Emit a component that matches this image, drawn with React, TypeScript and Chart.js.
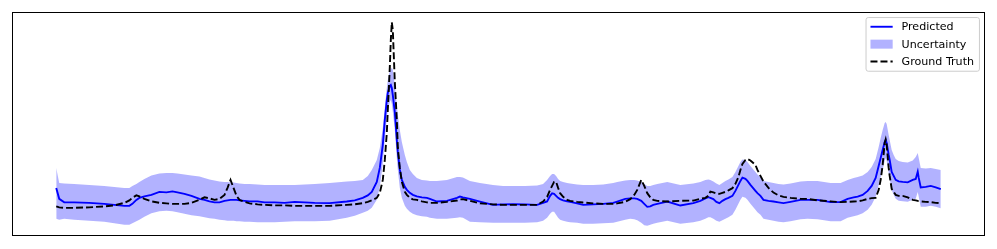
import { useEffect, useRef } from "react";
import { Chart, registerables } from "chart.js";

Chart.register(...registerables);

// sample index (time step)
const t = [0, 3, 8, 18, 33, 48, 58, 68, 73, 76, 80, 83, 88, 95, 103, 110, 116, 121, 128, 135, 143, 148, 153, 158, 163, 168, 171, 174, 177, 180, 183, 188, 193, 201, 208, 218, 228, 238, 248, 258, 273, 290, 298, 306, 311, 315, 320, 323, 326, 328, 330, 331, 333, 334, 335, 336, 338, 340, 341, 343, 345, 348, 350, 353, 356, 360, 365, 370, 373, 380, 390, 400, 403, 406, 413, 423, 436, 446, 456, 468, 480, 486, 490, 493, 495, 497, 499, 501, 503, 506, 510, 513, 520, 526, 536, 546, 556, 560, 568, 573, 577, 580, 584, 587, 590, 593, 596, 600, 610, 623, 636, 643, 648, 651, 653, 656, 659, 662, 665, 668, 671, 675, 678, 681, 683, 685, 688, 690, 693, 698, 700, 703, 706, 711, 716, 721, 726, 733, 743, 750, 760, 773, 783, 790, 796, 800, 805, 810, 814, 818, 821, 823, 825, 827, 828, 829, 831, 832, 834, 836, 838, 841, 845, 850, 855, 858, 860, 861, 863, 868, 873, 878, 883];

const predicted = [38, 27, 23.5, 23.5, 23, 22, 21, 20, 20, 22, 26, 28, 29.5, 31, 34, 33.5, 34.5, 33.5, 32, 30, 27, 26, 24.5, 23.5, 23.5, 25, 25.5, 26, 26, 26, 25.5, 25, 24.5, 24.5, 23.5, 23.5, 23, 24, 23.5, 23, 22.7, 24.3, 25.5, 28, 30.5, 34, 44, 58, 81, 106, 126, 133, 140, 141, 138, 131, 114, 86, 74, 56, 46, 39, 36, 33, 31, 29.5, 28.5, 28, 27, 24.3, 25, 28, 29.3, 28.5, 27, 24.3, 21, 21.5, 21.7, 21.5, 21, 23, 24.5, 30, 32.5, 32, 30, 28, 26.7, 25.5, 24.5, 24, 22.5, 21, 21.5, 22, 23, 24.3, 27, 27.5, 27.5, 27, 25, 22, 19, 19.5, 21, 22, 24.3, 20.3, 22.7, 25, 27.5, 28.7, 28, 26.7, 24, 22.7, 25, 26.7, 28, 30, 35, 41, 45, 48.3, 47, 45, 41, 35, 32.7, 30, 26, 25, 24.3, 23.5, 22.7, 24, 26, 26, 26, 23.7, 23.7, 27, 28.5, 29.3, 31, 35, 40, 48, 60, 68, 76, 84, 86, 83, 71, 66, 54, 50, 46, 44.5, 44, 43.5, 46, 47, 54.3, 48, 38.5, 39, 40, 38.5, 36.7];

const groundTruth = [19.5, 18.5, 18, 18, 18.5, 19.5, 20.5, 23, 25.5, 28, 30.5, 29.5, 27, 24.5, 23, 22.5, 22, 22, 22, 23, 26, 28.5, 27.5, 26, 27, 31, 38, 46, 38, 30, 26, 24, 22.5, 21.5, 21, 20.5, 20.5, 20, 20, 20, 20, 21, 21.5, 22.7, 24, 25.5, 28, 33, 46, 66, 93, 116, 159, 186, 204, 196, 144, 106, 78, 58, 44, 34, 31, 28, 26.5, 26, 24.5, 23.5, 23, 23, 24, 25.3, 26.5, 26.7, 25, 22.5, 21.5, 21, 21, 21, 21, 24.3, 29, 36, 40, 44, 44, 38, 32.7, 29, 26, 25, 24, 23.3, 22.5, 22, 22, 22.5, 24, 26.7, 31, 36, 46, 40, 32.7, 28.5, 26, 25, 24.3, 25, 25.3, 27, 28, 30, 34.3, 33.5, 32.5, 32, 33, 34, 35.5, 37.7, 42, 49, 56, 62, 66, 67, 65.5, 61, 56, 50, 44.3, 38, 33.3, 30.5, 29, 28, 27, 27, 25.5, 24.5, 23.7, 24, 24.3, 24.5, 25.5, 27, 27.7, 28, 36, 46, 61, 83, 86.5, 81, 58, 50, 37, 34, 31, 30, 30, 28.5, 26, 25.5, 25, 24.8, 24.5, 24, 23.7, 23, 22.7];

const upper = [58, 43, 42.5, 42, 41, 40, 39, 38, 38, 40, 42, 44, 47, 50.5, 52.5, 53, 53, 52.5, 51.5, 50.5, 49.5, 48, 46.5, 45.5, 44.5, 44, 44, 43.5, 43.5, 43, 42.5, 42, 42, 41.5, 41, 41, 41, 41, 41.5, 42, 43, 44.3, 45, 46, 50, 56, 66, 78, 98, 118, 138, 146, 155, 157, 158, 156, 141, 121, 111, 96, 84, 71, 64, 56, 52, 48, 46, 45.5, 45, 45, 46, 49, 49, 48.5, 45, 43, 41, 40, 40, 40, 40.5, 42, 46, 50, 52, 52, 50, 47, 45, 44, 43, 42.5, 41.5, 41, 41, 41.5, 43, 44, 45.5, 46, 46, 45.5, 44, 42, 40, 40, 41, 42, 44, 41, 42.5, 44, 46, 46.5, 46, 44.5, 42.5, 41, 43, 45, 46.5, 49, 54, 60, 64, 66.5, 66, 64, 60, 54, 51.5, 49, 45, 44, 43, 42, 41.5, 42.5, 44.5, 45, 45, 43, 43, 46, 48, 49, 50.5, 54, 59, 67, 79, 88, 96, 103, 104, 102, 91, 86, 76, 71, 67, 65, 64, 63.5, 65.5, 69, 73, 68, 58, 57.5, 58, 57, 56];

const lower = [7, 6, 7, 6, 5, 4, 2.5, 1, 1, 2.5, 4.5, 6, 9, 12.5, 14.5, 15, 14.5, 13.5, 12, 10.5, 9.5, 8.5, 7.5, 7, 6, 5.5, 5, 5, 5, 4.5, 4.5, 4, 4, 3.5, 3.5, 3.5, 4, 4.5, 4.5, 4.5, 5, 8, 10, 13, 15, 18, 26, 39, 62, 86, 108, 116, 124, 126, 122, 114, 96, 68, 56, 38, 28, 20, 17, 14, 12, 10.5, 9.5, 9, 8, 7, 7, 8, 8.5, 8, 4, 3.5, 3, 3, 3, 3, 3.5, 5, 8, 12, 14, 14, 11, 8, 6, 5, 4, 3.5, 3, 2, 2, 2.5, 3, 4, 6, 7, 6.5, 5.5, 3, 0.5, 0, 1, 2, 3, 5, 2, 3.5, 5, 7, 8.5, 8.5, 7, 5, 4, 5.5, 7, 8.5, 11, 16, 22, 26, 29, 28, 26, 22, 16, 13.5, 11, 7, 6, 5, 4, 3.5, 4.5, 6.5, 7, 6.5, 4.5, 4.5, 8, 9.5, 10.5, 12.5, 16, 21, 29, 41, 49, 56, 65, 68, 65, 53, 47, 36, 31, 27, 25, 24.5, 24, 26, 27, 34, 29, 19, 19, 20, 19, 17.5];

const legendLabels = ["Predicted", "Uncertainty", "Ground Truth"];

export default function App() {
  const ref = useRef<HTMLCanvasElement>(null);

  useEffect(() => {
    if (!ref.current) return;
    const tMin = Math.min(...t);
    const tMax = Math.max(...t);
    const xPad = (tMax - tMin) * 0.05;
    const yMin = Math.min(...lower, ...predicted, ...groundTruth);
    const yMax = Math.max(...upper, ...predicted, ...groundTruth);
    const yPad = (yMax - yMin) * 0.05;
    const pts = (arr: number[]) => t.map((x, i) => ({ x, y: arr[i] }));

    const FONT = '11.1px "DejaVu Sans"';
    const LW = 1.9;
    const DASH = [7, 3];

    const framePlugin = {
      id: "frame",
      afterDraw(chart: any) {
        const { ctx, chartArea } = chart;
        ctx.save();
        ctx.strokeStyle = "#000";
        ctx.lineWidth = 1;
        ctx.strokeRect(
          Math.round(chartArea.left) + 0.5,
          Math.round(chartArea.top) + 0.5,
          Math.round(chartArea.right - chartArea.left) - 1,
          Math.round(chartArea.bottom - chartArea.top) - 1
        );
        ctx.restore();
      },
    };

    const legendPlugin = {
      id: "mplLegend",
      afterDraw(chart: any) {
        const { ctx, chartArea } = chart;
        ctx.save();
        ctx.font = FONT;
        const fs = 11.1;
        const pad = 0.4 * fs;
        const handleLen = 2.0 * fs;
        const textPad = 0.8 * fs;
        const rowPitch = 17.4;
        const textW = Math.max(...legendLabels.map((l) => ctx.measureText(l).width));
        const boxW = pad + handleLen + textPad + textW + pad + 1;
        const boxH = rowPitch * 2 + 2 * 7 + 2 * pad - 4;
        const right = chartArea.right - 0.5 * fs;
        const top = chartArea.top + 0.5 * fs;
        const left = right - boxW;
        const r = 2.2;
        ctx.beginPath();
        ctx.moveTo(left + r, top);
        ctx.lineTo(right - r, top);
        ctx.arcTo(right, top, right, top + r, r);
        ctx.lineTo(right, top + boxH - r);
        ctx.arcTo(right, top + boxH, right - r, top + boxH, r);
        ctx.lineTo(left + r, top + boxH);
        ctx.arcTo(left, top + boxH, left, top + boxH - r, r);
        ctx.lineTo(left, top + r);
        ctx.arcTo(left, top, left + r, top, r);
        ctx.closePath();
        ctx.fillStyle = "rgba(255,255,255,0.8)";
        ctx.fill();
        ctx.strokeStyle = "#cccccc";
        ctx.lineWidth = 1;
        ctx.stroke();

        const hx0 = left + pad;
        const hx1 = hx0 + handleLen;
        const tx = hx1 + textPad;
        const row0 = top + 9.2;
        legendLabels.forEach((label, i) => {
          const cy = row0 + i * rowPitch;
          if (i === 0) {
            ctx.beginPath();
            ctx.strokeStyle = "#0000ff";
            ctx.lineWidth = LW;
            ctx.setLineDash([]);
            ctx.moveTo(hx0, cy);
            ctx.lineTo(hx1, cy);
            ctx.stroke();
          } else if (i === 1) {
            ctx.fillStyle = "rgba(0,0,255,0.3)";
            ctx.fillRect(hx0, cy - 4.5, handleLen, 9);
          } else {
            ctx.beginPath();
            ctx.strokeStyle = "#000";
            ctx.lineWidth = LW;
            ctx.setLineDash(DASH);
            ctx.moveTo(hx0, cy);
            ctx.lineTo(hx1, cy);
            ctx.stroke();
            ctx.setLineDash([]);
          }
          ctx.fillStyle = "#000";
          ctx.textBaseline = "middle";
          ctx.textAlign = "left";
          ctx.fillText(label, tx, cy + 0.5);
        });
        ctx.restore();
      },
    };

    const chart = new Chart(ref.current, {
      type: "line",
      data: {
        datasets: [
          {
            label: "Ground Truth",
            data: pts(groundTruth),
            borderColor: "#000000",
            borderWidth: LW,
            borderDash: DASH,
            pointRadius: 0,
            fill: false,
            tension: 0,
            order: 0,
          },
          {
            label: "Predicted",
            data: pts(predicted),
            borderColor: "#0000ff",
            borderWidth: LW,
            pointRadius: 0,
            fill: false,
            tension: 0,
            order: 1,
          },
          {
            label: "Uncertainty",
            data: pts(upper),
            borderColor: "rgba(0,0,0,0)",
            borderWidth: 0,
            backgroundColor: "rgba(0,0,255,0.3)",
            pointRadius: 0,
            fill: "+1",
            tension: 0,
            order: 2,
          },
          {
            label: "lower",
            data: pts(lower),
            borderColor: "rgba(0,0,0,0)",
            borderWidth: 0,
            pointRadius: 0,
            fill: false,
            tension: 0,
            order: 3,
          },
        ],
      },
      options: {
        responsive: false,
        animation: false,
        devicePixelRatio: 1,
        layout: { padding: { left: 12, right: 12, top: 12, bottom: 13 } },
        plugins: { legend: { display: false }, tooltip: { enabled: false } },
        scales: {
          x: { type: "linear", display: false, min: tMin - xPad, max: tMax + xPad },
          y: { type: "linear", display: false, min: yMin - yPad, max: yMax + yPad },
        },
      },
      plugins: [framePlugin, legendPlugin],
    } as any);
    return () => chart.destroy();
  }, []);

  return (
    <div style={{ position: "absolute", left: 0, top: 0, width: 997, height: 249, background: "#fff" }}>
      <canvas ref={ref} width={997} height={249} style={{ display: "block", width: 997, height: 249 }} />
    </div>
  );
}
